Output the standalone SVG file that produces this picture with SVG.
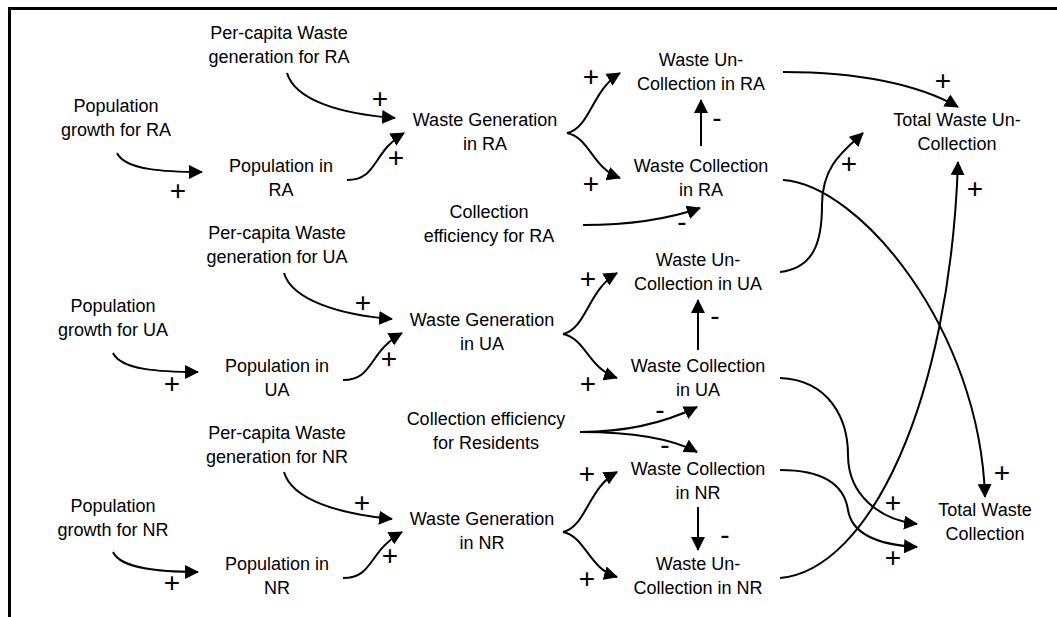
<svg xmlns="http://www.w3.org/2000/svg" width="1057" height="617" viewBox="0 0 1057 617">
<style>
.n{font-family:"Liberation Sans",Arial,sans-serif;font-size:18px;text-anchor:middle;fill:#000}
.p{font-family:"Liberation Sans",Arial,sans-serif;font-size:28px;text-anchor:middle;fill:#000}
.c{fill:none;stroke:#000;stroke-width:2;marker-end:url(#ah)}
</style>
<defs>
<marker id="ah" markerUnits="userSpaceOnUse" markerWidth="14" markerHeight="14" viewBox="0 0 14 14" refX="13" refY="7" orient="auto">
<path d="M0,0 L14,7 L0,14 Z" fill="#000"/>
</marker>
</defs>
<rect width="1057" height="617" fill="#fff"/>
<path d="M9.5,617 V8.5 H1057" fill="none" stroke="#000" stroke-width="3"/>

<g id="pcRA"><text class="n" x="279" y="39">Per-capita Waste</text><text class="n" x="279" y="63">generation for RA</text></g>
<g id="pgRA"><text class="n" x="116" y="112">Population</text><text class="n" x="116" y="136">growth for RA</text></g>
<g id="popRA"><text class="n" x="281" y="172">Population in</text><text class="n" x="281" y="196">RA</text></g>
<g id="wgRA"><text class="n" x="485" y="126">Waste Generation</text><text class="n" x="485" y="150">in RA</text></g>
<g id="wucRA"><text class="n" x="701" y="66">Waste Un-</text><text class="n" x="701" y="90">Collection in RA</text></g>
<g id="wcRA"><text class="n" x="701" y="172">Waste Collection</text><text class="n" x="701" y="196">in RA</text></g>
<g id="twuc"><text class="n" x="957" y="126">Total Waste Un-</text><text class="n" x="957" y="150">Collection</text></g>
<g id="ceRA"><text class="n" x="489" y="218">Collection</text><text class="n" x="489" y="242">efficiency for RA</text></g>
<g id="pcUA"><text class="n" x="277" y="239">Per-capita Waste</text><text class="n" x="277" y="263">generation for UA</text></g>
<g id="pgUA"><text class="n" x="113" y="312">Population</text><text class="n" x="113" y="336">growth for UA</text></g>
<g id="popUA"><text class="n" x="277" y="372">Population in</text><text class="n" x="277" y="396">UA</text></g>
<g id="wgUA"><text class="n" x="482" y="326">Waste Generation</text><text class="n" x="482" y="350">in UA</text></g>
<g id="wucUA"><text class="n" x="698" y="266">Waste Un-</text><text class="n" x="698" y="290">Collection in UA</text></g>
<g id="wcUA"><text class="n" x="698" y="372">Waste Collection</text><text class="n" x="698" y="396">in UA</text></g>
<g id="ceRes"><text class="n" x="486" y="425">Collection efficiency</text><text class="n" x="486" y="449">for Residents</text></g>
<g id="pcNR"><text class="n" x="277" y="439">Per-capita Waste</text><text class="n" x="277" y="463">generation for NR</text></g>
<g id="pgNR"><text class="n" x="113" y="512">Population</text><text class="n" x="113" y="536">growth for NR</text></g>
<g id="popNR"><text class="n" x="277" y="570">Population in</text><text class="n" x="277" y="594">NR</text></g>
<g id="wgNR"><text class="n" x="482" y="525">Waste Generation</text><text class="n" x="482" y="549">in NR</text></g>
<g id="wcNR"><text class="n" x="698" y="475">Waste Collection</text><text class="n" x="698" y="499">in NR</text></g>
<g id="wucNR"><text class="n" x="698" y="570">Waste Un-</text><text class="n" x="698" y="594">Collection in NR</text></g>
<g id="twc"><text class="n" x="985" y="516">Total Waste</text><text class="n" x="985" y="540">Collection</text></g>

<g id="connectors">
<path class="c" d="M287,73 C295,100 340,114 395,118"/>
<path class="c" d="M347,180 C378,180 372,152 404,133"/>
<path class="c" d="M117,153 C125,170 165,172 202,172"/>
<path class="c" d="M567,133 C590,128 592,90 620,73"/>
<path class="c" d="M567,133 C590,138 592,168 620,178"/>
<path class="c" d="M701,146 V100"/>
<path class="c" d="M583,225 C620,225 660,222 700,208"/>
<path class="c" d="M783,72 C860,72 920,85 958,107"/>
<path class="c" d="M783,180 C860,185 980,330 985,497"/>
<path class="c" d="M780,272 C815,268 822,240 822,205 C822,165 845,150 863,133"/>
<path class="c" d="M780,578 C870,570 950,400 958,162"/>
<path class="c" d="M780,378 C830,380 848,420 848,455 C848,495 880,520 917,524"/>
<path class="c" d="M780,470 C830,470 845,490 848,510 C852,535 880,545 917,547"/>

<path class="c" d="M284,273 C292,300 340,315 392,319"/>
<path class="c" d="M343,380 C374,380 368,352 402,333"/>
<path class="c" d="M113,353 C121,370 160,372 198,372"/>
<path class="c" d="M563,334 C586,329 588,290 617,273"/>
<path class="c" d="M563,334 C586,339 588,368 617,378"/>
<path class="c" d="M698,350 V300"/>
<path class="c" d="M580,432 C620,432 660,425 697,407"/>
<path class="c" d="M580,432 C620,432 665,435 697,452"/>

<path class="c" d="M284,472 C292,500 340,514 392,519"/>
<path class="c" d="M343,578 C374,578 368,551 402,532"/>
<path class="c" d="M113,552 C121,569 160,572 198,572"/>
<path class="c" d="M563,532 C586,527 588,488 617,472"/>
<path class="c" d="M563,532 C586,537 588,568 617,577"/>
<path class="c" d="M698,507 V550"/>
</g>

<g id="polarities">
<text class="p" x="178" y="200">+</text>
<text class="p" x="380" y="108">+</text>
<text class="p" x="396" y="167">+</text>
<text class="p" x="591" y="86">+</text>
<text class="p" x="591" y="193">+</text>
<text class="p" x="717" y="127">-</text>
<text class="p" x="682" y="231">-</text>
<text class="p" x="943" y="90">+</text>
<text class="p" x="849" y="173">+</text>
<text class="p" x="975" y="198">+</text>
<text class="p" x="1002" y="482">+</text>
<text class="p" x="893" y="512">+</text>
<text class="p" x="893" y="567">+</text>

<text class="p" x="172" y="393">+</text>
<text class="p" x="363" y="312">+</text>
<text class="p" x="389" y="368">+</text>
<text class="p" x="588" y="288">+</text>
<text class="p" x="588" y="393">+</text>
<text class="p" x="715" y="325">-</text>
<text class="p" x="660" y="419">-</text>
<text class="p" x="665" y="454">-</text>

<text class="p" x="172" y="592">+</text>
<text class="p" x="362" y="512">+</text>
<text class="p" x="390" y="565">+</text>
<text class="p" x="587" y="483">+</text>
<text class="p" x="587" y="588">+</text>
<text class="p" x="725" y="544">-</text>
</g>
</svg>
